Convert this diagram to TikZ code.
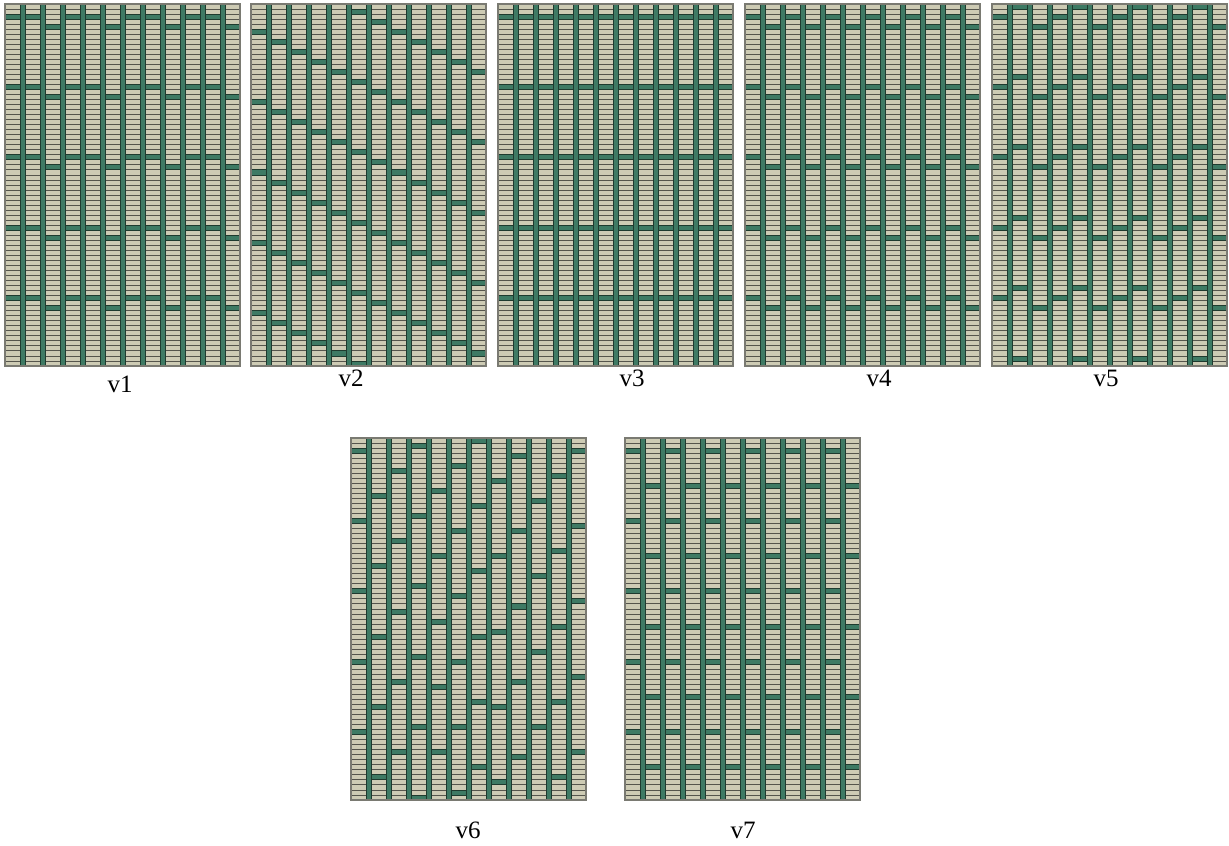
\documentclass[tikz,border=0pt]{standalone}
\usepackage{fontspec}
\setmainfont{Liberation Serif}
\definecolor{beige}{HTML}{CDCBB4}
\definecolor{bargreen}{HTML}{3E7A64}
\definecolor{edgecol}{HTML}{1E3A2E}
\definecolor{rowcol}{HTML}{55554C}
\definecolor{framecol}{HTML}{7A7A72}
\tikzset{
 cellbg/.style={fill=beige},
 rowln/.style={draw=rowcol, line width=0.9pt},
 vbar/.style={fill=bargreen, draw=edgecol, line width=1pt},
 hbar/.style={fill=bargreen, draw=edgecol, line width=0.9pt},
 frm/.style={draw=framecol, line width=1.2pt},
 lbl/.style={font=\fontsize{25}{30}\selectfont, inner sep=0pt}
}
\newcommand\RH{5.028}
\newcommand\hseg[1]{% column, row  in \myc, #1
 \draw[hbar] (\X+20*\myc-2.5,\Y+#1*\RH) rectangle ++(20,\RH);}
\newcommand\hper[2]{% r0, period (column in \myc)
 \foreach \k in {0,...,8}{\pgfmathtruncatemacro\myrr{#1+\k*#2}\ifnum\myrr<72 \hseg{\myrr}\fi}}
\newcommand\panel[3]{% x0, y0, pattern
 \def\X{#1}\def\Y{#2}%
 \begin{scope}
 \clip (#1,#2) rectangle ++(235,362);
 \fill[cellbg] (#1,#2) rectangle ++(235,362);
 \foreach \r in {1,...,71}{\draw[rowln] (#1,#2+\r*\RH) -- ++(235,0);}
 #3
 \foreach \c in {0,...,10}{\draw[vbar] (#1+15+20*\c,#2-2) rectangle ++(5,366);}
 \end{scope}
 \draw[frm] (#1,#2) rectangle ++(235,362);
}
\begin{document}
\begin{tikzpicture}[x=1pt,y=-1pt]
\useasboundingbox (0,0) rectangle (1229,846);
\fill[white] (0,0) rectangle (1229,846);
% v1
\panel{5}{4}{\foreach \myc in {0,...,11}{\pgfmathtruncatemacro\off{mod(\myc,3)==2 ? 4 : 2}\hper{\off}{14}}}
% v2
\panel{251}{4}{\foreach \myc in {0,...,11}{\pgfmathtruncatemacro\off{mod(5+2*mod(\myc,7),14)}\hper{\off}{14}}}
% v3
\panel{498}{4}{\foreach \myc in {0,...,11}{\hper{2}{14}}}
% v4
\panel{745}{4}{\foreach \myc in {0,...,11}{\pgfmathtruncatemacro\off{mod(\myc,2)==0 ? 2 : 4}\hper{\off}{14}}}
% v5
\panel{992}{4}{\foreach \myc in {0,...,11}{\pgfmathtruncatemacro\off{mod(\myc,3)==0 ? 2 : (mod(\myc,3)==1 ? 0 : 4)}\hper{\off}{14}}}
% v6
\panel{351}{438}{\foreach \myc/\ro/\pp in {0/2/14,1/11/14,2/6/14,3/1/14,4/10/13,5/5/13,6/0/13,7/8/15,8/3/15,9/12/15,10/7/15,11/2/15}{\hper{\ro}{\pp}}}
% v7
\panel{625}{438}{\foreach \myc in {0,...,11}{\pgfmathtruncatemacro\off{mod(\myc,2)==0 ? 2 : 9}\hper{\off}{14}}}
\node[lbl] (l1) at (120,384) {v1};
\node[lbl] (l2) at (351,378) {v2};
\node[lbl] (l3) at (632,378) {v3};
\node[lbl] (l4) at (879,378) {v4};
\node[lbl] (l5) at (1106,378) {v5};
\node[lbl] (l6) at (468,830) {v6};
\node[lbl] (l7) at (743,830) {v7};
\end{tikzpicture}
\end{document}
